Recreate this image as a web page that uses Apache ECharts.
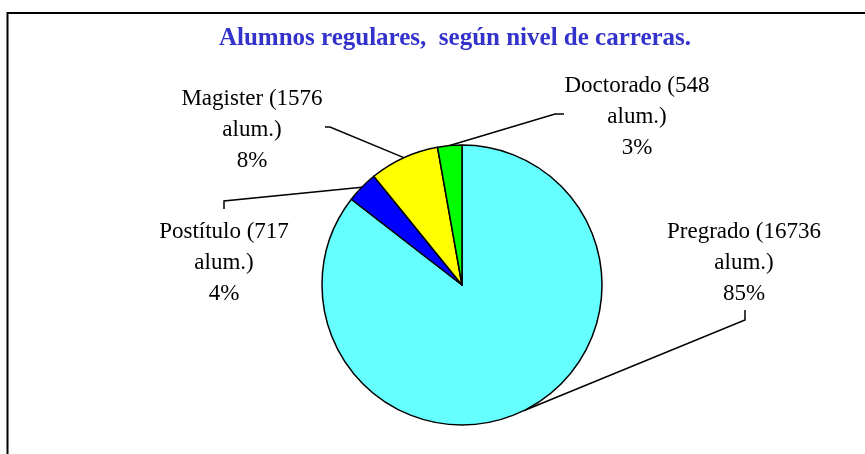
<!DOCTYPE html>
<html>
<head>
<meta charset="UTF-8">
<title>Alumnos regulares</title>
<script src="https://cdn.jsdelivr.net/npm/echarts@6/dist/echarts.min.js"></script>
<style>
  html, body { margin: 0; padding: 0; background: #fff; }
  #chart { width: 865px; height: 454px; }
</style>
</head>
<body>
<div id="chart"></div>
<script>
var niveles = ['Pregrado', 'Postítulo', 'Magister', 'Doctorado'];
var alumnos = [16736, 717, 1576, 548];
var colores = ['#66FFFF', '#0000FF', '#FFFF00', '#00FF00'];

// donde va cada etiqueta y donde dobla su linea guia
var etiquetas = [
  { pos: [744, 263], codo: [745, 320], fin: [745, 310] },
  { pos: [224, 263], codo: [224, 201], fin: [224, 209] },
  { pos: [252, 130], codo: [330, 127], fin: [325, 127] },
  { pos: [637, 117], codo: [555, 114], fin: [564, 114] }
];

var centro = [462, 285];
var radio = 140;
var total = alumnos.reduce(function (a, b) { return a + b; }, 0);

// punto del borde en la mitad de cada sector (desde las 12, sentido horario)
function bordeMedio(i) {
  var antes = 0;
  for (var k = 0; k < i; k++) antes += alumnos[k];
  var ang = (antes + alumnos[i] / 2) / total * Math.PI * 2;
  return [centro[0] + radio * Math.sin(ang), centro[1] - radio * Math.cos(ang)];
}

var datos = [];
for (var i = 0; i < niveles.length; i++) {
  datos.push({ name: niveles[i], value: alumnos[i], itemStyle: { color: colores[i] } });
}

var myChart = echarts.init(document.getElementById('chart'));
var option = {
  animation: false,
  backgroundColor: '#fff',
  title: {
    text: 'Alumnos regulares,  según nivel de carreras.',
    left: 450,
    top: 21,
    textAlign: 'center',
    textStyle: {
      fontFamily: 'Liberation Serif',
      fontWeight: 'bold',
      fontSize: 25,
      color: '#3333CC'
    }
  },
  graphic: [{
    type: 'polyline',
    shape: { points: [[7.5, 470], [7.5, 13], [880, 13]] },
    style: { stroke: '#000', lineWidth: 2, fill: null }
  }],
  series: [{
    type: 'pie',
    center: centro,
    radius: radio,
    startAngle: 90,
    clockwise: true,
    avoidLabelOverlap: false,
    emphasis: { disabled: true },
    itemStyle: { borderColor: '#000', borderWidth: 1.5 },
    label: {
      show: true,
      color: '#000',
      fontFamily: 'Liberation Serif',
      fontSize: 23,
      lineHeight: 31,
      align: 'center',
      formatter: function (p) {
        return p.name + ' (' + p.value + '\nalum.)\n' + Math.round(p.percent) + '%';
      }
    },
    labelLine: {
      show: true,
      length: 20,
      length2: 10,
      lineStyle: { color: '#000', width: 1.5 }
    },
    labelLayout: function (params) {
      var e = etiquetas[params.dataIndex];
      return {
        x: e.pos[0],
        y: e.pos[1],
        align: 'center',
        verticalAlign: 'middle',
        labelLinePoints: [bordeMedio(params.dataIndex), e.codo, e.fin]
      };
    },
    data: datos
  }]
};
myChart.setOption(option);
</script>
</body>
</html>
